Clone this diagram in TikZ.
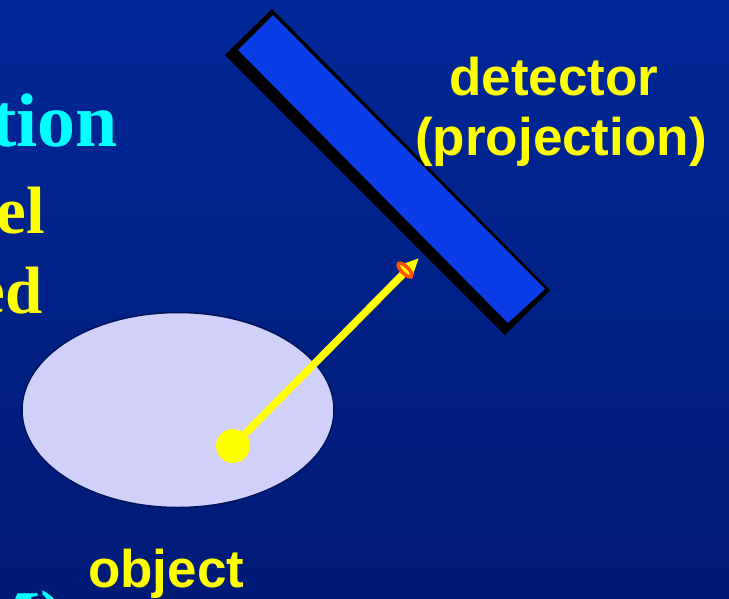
\documentclass[tikz,border=0pt]{standalone}
\usepackage{fontspec}
\setmainfont{Liberation Serif}
\setsansfont{Liberation Sans}
\usetikzlibrary{arrows.meta,shapes.geometric}
\definecolor{bgtop}{RGB}{0,40,152}
\definecolor{bgbot}{RGB}{0,26,118}
\definecolor{detblue}{RGB}{10,60,232}
\definecolor{objfill}{RGB}{208,208,250}
\definecolor{objline}{RGB}{0,20,90}
\definecolor{ringred}{RGB}{255,80,0}
\definecolor{txtyellow}{RGB}{255,255,0}
\definecolor{txtcyan}{RGB}{0,255,255}
\begin{document}
\begin{tikzpicture}[x=1pt,y=-1pt,
  lbl/.style={font=\sffamily\bfseries\fontsize{53}{60}\selectfont, text=txtyellow, inner sep=0pt},
  titlefont/.style={font=\rmfamily\bfseries\fontsize{76}{84}\selectfont, text=txtcyan, inner sep=0pt},
  bodyfont/.style={font=\rmfamily\bfseries\fontsize{67}{74}\selectfont, text=txtyellow, inner sep=0pt}]
\useasboundingbox (0,0) rectangle (729,598);
\clip (0,0) rectangle (729,598);
\shade[top color=bgtop,bottom color=bgbot] (0,0) rectangle (729,598);

% cut-off texts on the left
\node[titlefont, anchor=base east] (tion) at (118,146) {tion};
\node[bodyfont, anchor=base east] (el) at (45,233) {el};
\node[bodyfont, anchor=base east] (ed) at (43,313) {ed};
\node[titlefont, anchor=base east] (m) at (66,643) {M)};

% detector
\fill[black] (225,55) -- (272,9) -- (550,290) -- (505,335) -- cycle;
\fill[detblue] (238,50) -- (273,15) -- (545,289) -- (508,323) -- cycle;

% object
\node[ellipse, draw=objline, line width=1.5pt, fill=objfill, minimum width=312pt, minimum height=195pt, inner sep=0pt] (obj) at (178,410) {};

% ray
\coordinate (tip) at (419,258);
\node[circle, fill=txtyellow, minimum size=34pt, inner sep=0pt] (dot) at (233,446) {};
\draw[txtyellow, line width=7.5pt, -{Triangle[length=20pt,width=17pt]}] (dot.center) -- (tip);
\draw[ringred, line width=3.5pt, rotate around={-45:(405,270)}] (405,270) ellipse [x radius=9pt, y radius=3.5pt];

% labels
\node[lbl, anchor=base] (det) at (554,95) {detector};
\node[lbl, anchor=base] (proj) at (561,155) {(projection)};
\node[lbl, anchor=base west] (object) at (88,587) {object};
\end{tikzpicture}
\end{document}
